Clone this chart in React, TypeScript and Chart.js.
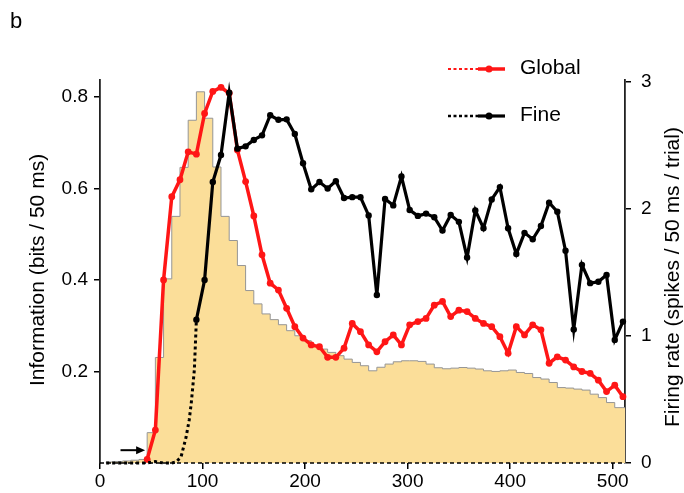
import React, { useEffect, useRef } from "react";
import { Chart, registerables } from "chart.js";

Chart.register(...registerables);

// Time bins (ms), one every 8 ms
const timeGrid = [
  6, 14, 22, 30, 38, 46, 54, 62, 70, 78, 86, 94, 102, 110, 118, 126, 134, 142, 150, 158,
  166, 174, 182, 190, 198, 206, 214, 222, 230, 238, 246, 254, 262, 270, 278, 286, 294, 302,
  310, 318, 326, 334, 342, 350, 358, 366, 374, 382, 390, 398, 406, 414, 422, 430, 438, 446,
  454, 462, 470, 478, 486, 494, 502, 510,
];
const histEnd = 512;

// Firing rate histogram (spikes / 50 ms / trial), one value per bin starting at timeGrid[i]
const firingRate = [
  0.004, 0.008, 0.012, 0.016, 0.022, 0.028, 0.239, 0.831, 1.45, 1.942, 2.328, 2.699, 2.923,
  2.715, 2.331, 1.942, 1.752, 1.555, 1.358, 1.253, 1.174, 1.129, 1.089, 1.042, 1.002, 0.963,
  0.923, 0.897, 0.871, 0.845, 0.818, 0.792, 0.766, 0.726, 0.754, 0.779, 0.797, 0.805, 0.805,
  0.8, 0.779, 0.75, 0.742, 0.747, 0.752, 0.747, 0.74, 0.726, 0.721, 0.726, 0.732, 0.713, 0.705,
  0.673, 0.661, 0.634, 0.594, 0.59, 0.582, 0.574, 0.542, 0.515, 0.476, 0.436,
];

// Global information (bits / 50 ms)
const globalInfo = [
  null, null, null, null, null, 0.008, 0.072, 0.4, 0.582, 0.619, 0.68, 0.675, 0.764, 0.812,
  0.821, 0.808, 0.684, 0.615, 0.54, 0.455, 0.393, 0.378, 0.338, 0.298, 0.273, 0.258, 0.254,
  0.231, 0.231, 0.251, 0.305, 0.287, 0.258, 0.243, 0.265, 0.28, 0.258, 0.302, 0.309, 0.316,
  0.345, 0.353, 0.32, 0.334, 0.331, 0.316, 0.305, 0.298, 0.276, 0.24, 0.298, 0.28, 0.302,
  0.291, 0.218, 0.232, 0.225, 0.21, 0.2, 0.196, 0.181, 0.156, 0.17, 0.145,
];

// Fine information (bits / 50 ms)
const fineInfo = [
  null, null, null, null, null, null, null, null, null, null, null, 0.313, 0.4, 0.614, 0.673,
  0.809, 0.687, 0.692, 0.706, 0.716, 0.76, 0.75, 0.751, 0.719, 0.655, 0.598, 0.614, 0.6,
  0.616, 0.579, 0.581, 0.581, 0.541, 0.367, 0.577, 0.563, 0.626, 0.553, 0.54, 0.545, 0.537,
  0.508, 0.542, 0.527, 0.449, 0.552, 0.513, 0.576, 0.603, 0.513, 0.457, 0.503, 0.489, 0.518,
  0.569, 0.549, 0.464, 0.292, 0.433, 0.393, 0.396, 0.411, 0.269, 0.309,
];

// Early (pre-significant) part of the Fine curve, drawn dotted
const fineOnsetTimes = [6, 14, 22, 30, 38, 46, 54, 62, 70, 74, 79, 84, 87, 89, 92, 94];
const fineOnsetInfo = [0, 0, 0, 0, 0, 0, 0.003, 0, 0, 0.002, 0.013, 0.057, 0.094, 0.131, 0.203, 0.313];

const xTicks = [0, 100, 200, 300, 400, 500];
const infoTicks = [0.2, 0.4, 0.6, 0.8];
const rateTicks = [0, 1, 2, 3];

// Latency arrow (ms range, info level)
const arrowFrom = 20;
const arrowTo = 44;
const arrowLevel = 0.028;

const RED = "rgb(255,22,22)";
const FONT = "'Liberation Sans', Arial, Helvetica, sans-serif";

const pts = (xs: number[], ys: (number | null)[]) => xs.map((x, i) => ({ x, y: ys[i] }));

const decorPlugin = {
  id: "decor",
  afterDraw(chart: any) {
    const { ctx, chartArea, scales } = chart;
    const x = scales.x;
    const yI = scales.yInfo;
    ctx.save();
    // dashed baseline
    ctx.strokeStyle = "#000";
    ctx.lineWidth = 1.6;
    ctx.setLineDash([4, 3]);
    ctx.beginPath();
    const y0 = yI.getPixelForValue(0);
    ctx.moveTo(chartArea.left, y0);
    ctx.lineTo(chartArea.right, y0);
    ctx.stroke();
    ctx.setLineDash([]);

    // arrow
    const ay = yI.getPixelForValue(arrowLevel);
    const ax1 = x.getPixelForValue(arrowFrom);
    const ax2 = x.getPixelForValue(arrowTo);
    ctx.lineWidth = 2;
    ctx.beginPath();
    ctx.moveTo(ax1, ay);
    ctx.lineTo(ax2 - 6, ay);
    ctx.stroke();
    ctx.fillStyle = "#000";
    ctx.beginPath();
    ctx.moveTo(ax2, ay);
    ctx.lineTo(ax2 - 9, ay - 4);
    ctx.lineTo(ax2 - 9, ay + 4);
    ctx.closePath();
    ctx.fill();

    // panel letter
    ctx.fillStyle = "#000";
    ctx.font = `22px ${FONT}`;
    ctx.textAlign = "left";
    ctx.textBaseline = "middle";
    ctx.fillText("b", 10, 22);

    // axis titles
    ctx.font = `21px ${FONT}`;
    ctx.textAlign = "center";
    ctx.save();
    ctx.translate(38, 270);
    ctx.rotate(-Math.PI / 2);
    ctx.fillText("Information (bits / 50 ms)", 0, 0);
    ctx.restore();
    ctx.save();
    ctx.translate(673, 277);
    ctx.rotate(-Math.PI / 2);
    ctx.fillText("Firing rate (spikes / 50 ms / trial)", 0, 0);
    ctx.restore();

    // legend
    const items = [
      { ds: chart.data.datasets[1], y: 69, dashW: 1.8 },
      { ds: chart.data.datasets[2], y: 116, dashW: 2.6 },
    ];
    items.forEach((it) => {
      const c = it.ds.borderColor;
      ctx.strokeStyle = c;
      ctx.fillStyle = c;
      ctx.lineWidth = it.dashW;
      ctx.setLineDash([3, 2.5]);
      ctx.beginPath();
      ctx.moveTo(448, it.y);
      ctx.lineTo(478, it.y);
      ctx.stroke();
      ctx.setLineDash([]);
      ctx.lineWidth = it.ds.borderWidth;
      ctx.beginPath();
      ctx.moveTo(478, it.y);
      ctx.lineTo(505, it.y);
      ctx.stroke();
      ctx.beginPath();
      ctx.arc(489, it.y, 3.5, 0, Math.PI * 2);
      ctx.fill();
      ctx.fillStyle = "#000";
      ctx.font = `21px ${FONT}`;
      ctx.textAlign = "left";
      ctx.textBaseline = "middle";
      ctx.fillText(it.ds.label, 520, it.y - 1);
    });
    ctx.restore();
  },
};

const App = () => {
  const ref = useRef<HTMLCanvasElement>(null);
  useEffect(() => {
    if (!ref.current) return;
    Chart.defaults.font.family = FONT;
    const histData = pts(timeGrid, firingRate);
    histData.push({ x: histEnd, y: firingRate[firingRate.length - 1] });
    const chart = new Chart(ref.current, {
      type: "line",
      data: {
        datasets: [
          {
            label: "Firing rate",
            data: histData,
            yAxisID: "yRate",
            stepped: "after",
            fill: "origin",
            backgroundColor: "rgb(251,222,153)",
            borderColor: "rgb(150,150,150)",
            borderWidth: 1,
            pointRadius: 0,
            order: 5,
          },
          {
            label: "Global",
            data: pts(timeGrid, globalInfo),
            yAxisID: "yInfo",
            borderColor: RED,
            backgroundColor: RED,
            borderWidth: 3.5,
            pointRadius: 3.4,
            pointBorderWidth: 0,
            pointBackgroundColor: RED,
            tension: 0,
            fill: false,
            clip: 6,
            order: 3,
          },
          {
            label: "Fine",
            data: pts(timeGrid, fineInfo),
            yAxisID: "yInfo",
            borderColor: "#000",
            backgroundColor: "#000",
            borderWidth: 3.2,
            pointRadius: 3.2,
            pointBorderWidth: 0,
            pointBackgroundColor: "#000",
            tension: 0,
            fill: false,
            clip: 6,
            order: 1,
          },
          {
            label: "Fine onset",
            data: pts(fineOnsetTimes, fineOnsetInfo),
            yAxisID: "yInfo",
            borderColor: "#000",
            borderWidth: 3,
            borderDash: [3, 3],
            pointRadius: 0,
            tension: 0,
            fill: false,
            clip: 6,
            order: 2,
          },
        ],
      },
      options: {
        responsive: false,
        animation: false,
        devicePixelRatio: 1,
        layout: { padding: { top: 80, left: 0, right: 0, bottom: 0 } },
        plugins: { legend: { display: false }, tooltip: { enabled: false }, title: { display: false } },
        scales: {
          x: {
            type: "linear",
            position: "bottom",
            min: 0,
            max: histEnd,
            afterFit: (s: any) => {
              s.height = 30;
            },
            afterBuildTicks: (s: any) => {
              s.ticks = xTicks.map((v) => ({ value: v }));
            },
            ticks: { color: "#000", font: { size: 19 }, padding: 1, maxRotation: 0, autoSkip: false },
            grid: { drawOnChartArea: false, drawTicks: true, tickLength: 6, color: "#000", lineWidth: 1.5 },
            border: { display: false },
          },
          yInfo: {
            type: "linear",
            position: "left",
            min: 0,
            max: 0.837,
            afterFit: (s: any) => {
              s.width = 100;
            },
            afterBuildTicks: (s: any) => {
              s.ticks = infoTicks.map((v) => ({ value: v }));
            },
            ticks: {
              color: "#000",
              font: { size: 19 },
              padding: 6,
              callback: (v: any) => Number(v).toFixed(1),
            },
            grid: { drawOnChartArea: false, drawTicks: true, tickLength: 6, color: "#000", lineWidth: 1.5 },
            border: { display: true, color: "#222", width: 1.8 },
          },
          yRate: {
            type: "linear",
            position: "right",
            min: 0,
            max: 3.016,
            afterFit: (s: any) => {
              s.width = 59;
            },
            afterBuildTicks: (s: any) => {
              s.ticks = rateTicks.map((v) => ({ value: v }));
            },
            ticks: { color: "#000", font: { size: 19 }, padding: 10, callback: (v: any) => String(v) },
            grid: { drawOnChartArea: false, drawTicks: true, tickLength: 6, color: "#000", lineWidth: 1.5 },
            border: { display: true, color: "#222", width: 1.8 },
          },
        },
      },
      plugins: [decorPlugin],
    } as any);
    return () => chart.destroy();
  }, []);
  return (
    <div style={{ position: "fixed", left: 0, top: 0, width: 684, height: 493, background: "#fff" }}>
      <canvas ref={ref} width={684} height={493} style={{ width: 684, height: 493 }} />
    </div>
  );
};

export default App;
